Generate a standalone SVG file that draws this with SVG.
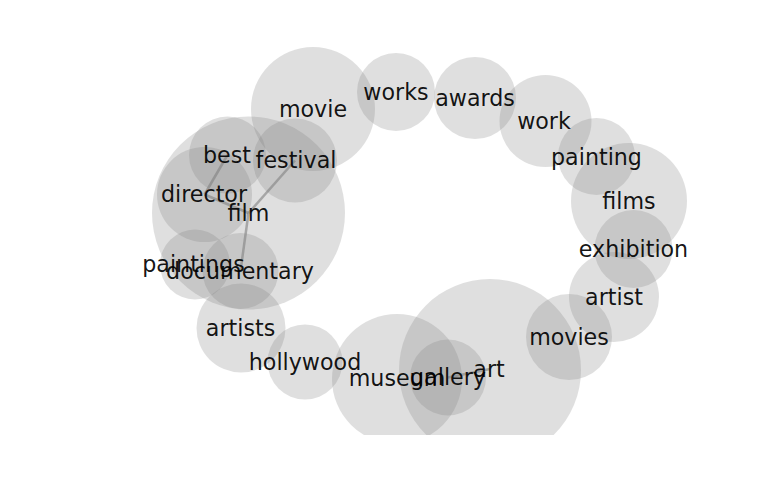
<svg xmlns="http://www.w3.org/2000/svg" width="768" height="500" viewBox="0 0 768 500">
<style>
.n circle{fill:#808080;fill-opacity:0.25}
.n text{font-family:"DejaVu Sans",sans-serif;font-size:22.2px;fill:#000;fill-opacity:0.92;text-anchor:middle}
.e line{stroke:#808080;stroke-opacity:0.6;stroke-width:2.5}
</style>
<defs><clipPath id="c"><rect x="0" y="0" width="768" height="435"/></clipPath></defs>
<rect width="768" height="500" fill="#fff"/>
<g clip-path="url(#c)">
<g id="film" class="n"><circle cx="248.5" cy="213" r="96.5"/></g>
<g id="movie" class="n"><circle cx="313" cy="109" r="62"/></g>
<g id="works" class="n"><circle cx="396" cy="92" r="39"/></g>
<g id="awards" class="n"><circle cx="475" cy="98" r="41"/></g>
<g id="work" class="n"><circle cx="545.5" cy="121" r="46"/></g>
<g id="painting" class="n"><circle cx="596.5" cy="156.5" r="38.5"/></g>
<g id="films" class="n"><circle cx="629" cy="201" r="58"/></g>
<g id="exhibition" class="n"><circle cx="633.5" cy="249" r="39"/></g>
<g id="artist" class="n"><circle cx="614" cy="297" r="45"/></g>
<g id="movies" class="n"><circle cx="569" cy="337" r="43"/></g>
<g id="art" class="n"><circle cx="490" cy="370" r="91"/></g>
<g id="gallery" class="n"><circle cx="448" cy="377.5" r="38"/></g>
<g id="museum" class="n"><circle cx="397" cy="379" r="65"/></g>
<g id="hollywood" class="n"><circle cx="305" cy="362" r="37.5"/></g>
<g id="artists" class="n"><circle cx="241" cy="328" r="44.5"/></g>
<g id="documentary" class="n"><circle cx="240.5" cy="271" r="38"/></g>
<g id="paintings" class="n"><circle cx="195" cy="264.5" r="35"/></g>
<g id="director" class="n"><circle cx="204.5" cy="194.5" r="47.5"/></g>
<g id="best" class="n"><circle cx="227.5" cy="155" r="38.5"/></g>
<g id="festival" class="n"><circle cx="295" cy="160.5" r="42"/></g>
</g>
<g id="connectors" class="e">
<line x1="227.5" y1="155" x2="204.5" y2="194.5"/>
<line x1="204.5" y1="194.5" x2="248.5" y2="213"/>
<line x1="248.5" y1="213" x2="295" y2="160.5"/>
<line x1="248.5" y1="213" x2="240.5" y2="271"/>
<line x1="448" y1="377.5" x2="490" y2="369"/>
</g>
<g class="n">
<text x="248.5" y="221">film</text>
<text x="313" y="116.5">movie</text>
<text x="396" y="100">works</text>
<text x="475" y="106">awards</text>
<text x="544" y="128.5">work</text>
<text x="596.5" y="164.5">painting</text>
<text x="629" y="208.5">films</text>
<text x="633.5" y="256.5">exhibition</text>
<text x="614" y="304.5">artist</text>
<text x="569" y="344.5">movies</text>
<text x="489" y="377">art</text>
<text x="448" y="385">gallery</text>
<text x="397" y="386">museum</text>
<text x="305" y="369.5">hollywood</text>
<text x="240.5" y="335.5">artists</text>
<text x="240" y="279">documentary</text>
<text x="193.5" y="272">paintings</text>
<text x="204" y="201.5">director</text>
<text x="227" y="163">best</text>
<text x="296" y="167.5">festival</text>
</g>
</svg>
